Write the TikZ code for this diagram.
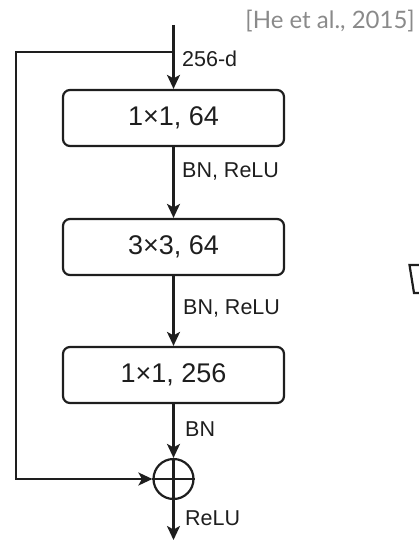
\documentclass[tikz,border=0pt]{standalone}
\usepackage{fontspec}
\setmainfont{Liberation Sans}
\newfontfamily\citefont{Lato}
\usetikzlibrary{arrows.meta}
\definecolor{ink}{HTML}{1E1E1E}
\definecolor{citegray}{HTML}{8A8A8A}
\tikzset{
  blk/.style={draw=ink, line width=2.2pt, rounded corners=7pt, minimum width=221pt, minimum height=56pt, inner sep=0pt, font=\fontsize{27}{30}\selectfont, text=ink},
  arr/.style={draw=ink, line width=2.2pt, -{Stealth[length=14pt,width=13pt,inset=3.5pt]}},
  ln/.style={draw=ink, line width=2.2pt},
  lbl/.style={anchor=west, inner sep=0pt, font=\fontsize{21.5}{24}\selectfont, text=ink},
  sumnode/.style={draw=ink, line width=2.2pt, circle, minimum size=40pt, inner sep=0pt}
}
\begin{document}
\begin{tikzpicture}[x=1pt,y=-1pt]
\useasboundingbox (0,0) rectangle (418,540);
\node[anchor=east, inner sep=0pt, font=\citefont\fontsize{24}{26}\selectfont, text=citegray] (cite) at (415,21) {[He et al., 2015]};
\coordinate (top) at (173.5,25);
\coordinate (split) at (173.5,52);
\coordinate (c1) at (16,52);
\coordinate (c2) at (16,479);
\coordinate (outend) at (173.5,540);
\node[blk] (b1) at (173.5,118) {1×1, 64};
\node[blk] (b2) at (173.5,247) {3×3, 64};
\node[blk] (b3) at (173.5,375) {1×1, 256};
\node[sumnode] (sum) at (173.5,479) {};
\draw[ln] (sum.north) -- (sum.south) (sum.west) -- (sum.east);
\draw[arr] (top) -- (b1.north);
\draw[arr] (b1.south) -- (b2.north);
\draw[arr] (b2.south) -- (b3.north);
\draw[arr] (b3.south) -- (sum.north);
\draw[arr] (sum.south) -- (outend);
\draw[arr] (split) -- (c1) -- (c2) -- (sum.west);
\node[lbl] (l0) at (182,59) {256-d};
\node[lbl] (l1) at (182,171) {BN, ReLU};
\node[lbl] (l2) at (183,308) {BN, ReLU};
\node[lbl] (l3) at (185,429) {BN};
\node[lbl] (l4) at (185,518) {ReLU};
\draw[ln] (419,265) -- (409.5,265) -- (414,293) -- (419,293);
\end{tikzpicture}
\end{document}
